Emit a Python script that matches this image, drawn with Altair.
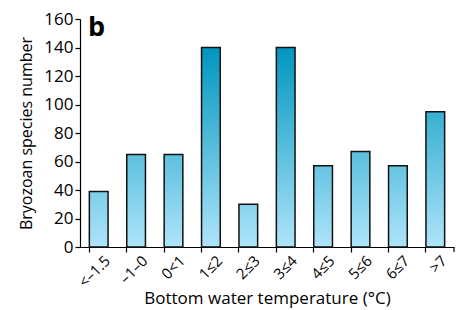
import altair as alt
import pandas as pd

categories = ["<–1.5", "–1–0", "0<1", "1≤2", "2≤3", "3≤4", "4≤5", "5≤6", "6≤7", ">7"]
species = [39, 65, 65, 140, 30, 140, 57, 67, 57, 95]

df = pd.DataFrame({"cat": categories, "n": species})

FONT = "Open Sans"
BOTTOM = (174, 228, 250)
TOP = (0, 150, 190)
VMAX = 140.0


def col(v):
    f = max(0.0, min(1.0, v / VMAX))
    r, g, b = [round(BOTTOM[i] + (TOP[i] - BOTTOM[i]) * f) for i in range(3)]
    return f"#{r:02x}{g:02x}{b:02x}"


x_enc = alt.X(
    "cat:N",
    sort=categories,
    scale=alt.Scale(domain=categories, paddingInner=0.5, paddingOuter=0.25),
    axis=alt.Axis(
        title="Bottom water temperature (°C)",
        labelAngle=-45,
        labelAlign="right",
        labelBaseline="top",
        bandPosition=0,
        labelFont=FONT,
        labelFontSize=15,
        labelColor="#000",
        labelOffset=4,
        titleFont=FONT,
        titleFontSize=17,
        titleFontWeight="normal",
        titleColor="#000",
        domainColor="#000",
        domainWidth=1.2,
        tickColor="#000",
        tickWidth=1.2,
        tickSize=5,
        labelPadding=1,
        titlePadding=1,
    ),
)
y_enc = alt.Y(
    "n:Q",
    scale=alt.Scale(domain=[0, 160], nice=False),
    axis=alt.Axis(
        title="Bryozoan species number",
        values=[0, 20, 40, 60, 80, 100, 120, 140, 160],
        grid=False,
        labelFont=FONT,
        labelFontSize=17,
        labelColor="#000",
        titleFont=FONT,
        titleFontSize=16,
        titleFontWeight="normal",
        titleColor="#000",
        domainColor="#000",
        domainWidth=1.2,
        tickColor="#000",
        tickWidth=1.2,
        tickSize=5,
        labelPadding=2,
        titlePadding=9,
    ),
)

base = alt.Chart(df)
layers = []
for c, v in zip(categories, species):
    grad = alt.Gradient(
        gradient="linear",
        stops=[
            alt.GradientStop(color=col(0), offset=0),
            alt.GradientStop(color=col(v), offset=1),
        ],
        x1=0, x2=0, y1=1, y2=0,
    )
    layers.append(
        base.transform_filter(alt.datum.cat == c)
        .mark_bar(color=grad, stroke="#111", strokeWidth=1.5)
        .encode(x=x_enc, y=y_enc)
    )

end_tick = alt.Chart(df.head(1)).mark_rule(color="#000", strokeWidth=1.2).encode(
    x=alt.value(374), y=alt.value(228), y2=alt.value(233)
)

label_b = alt.Chart(df.head(1)).mark_text(
    text="b", font=FONT, fontSize=27, fontWeight="bold", align="left", baseline="alphabetic", color="#000"
).encode(x=alt.value(8), y=alt.value(17))

chart = (
    alt.layer(*layers, end_tick, label_b)
    .properties(width=374, height=228, padding={"left": 10, "top": 2, "right": 0, "bottom": 3})
    .configure_view(stroke=None)
)

chart.save("out.html", embed_options={"renderer": "svg", "actions": False})
